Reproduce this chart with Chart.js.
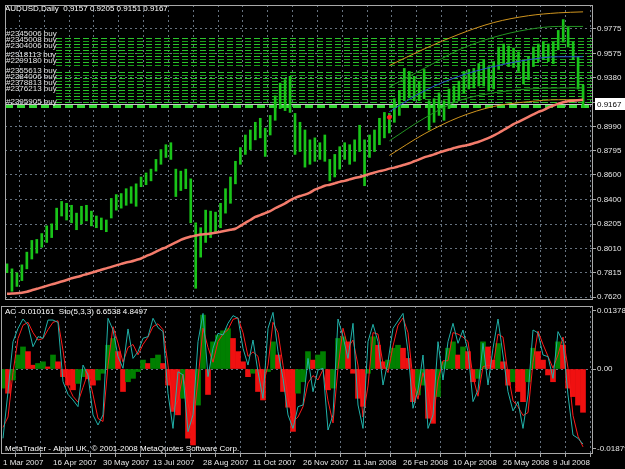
<!DOCTYPE html>
<html><head><meta charset="utf-8">
<script src="https://cdn.jsdelivr.net/npm/chart.js@4.4.1/dist/chart.umd.min.js"></script>
<style>
html,body{margin:0;padding:0;background:#000;}
#wrap{position:relative;width:625px;height:469px;background:#000;overflow:hidden;}
#c1{position:absolute;left:0;top:0;width:625px;height:305px;}
#c2{position:absolute;left:0;top:305px;width:625px;height:164px;}
</style></head><body>
<div id="wrap"><canvas id="c1" width="625" height="305"></canvas><canvas id="c2" width="625" height="164"></canvas></div>
<script>
// ---------- DATA ----------
const dateLabels = ['1 Mar 2007','16 Apr 2007','30 May 2007','13 Jul 2007','28 Aug 2007','11 Oct 2007','26 Nov 2007','11 Jan 2008','26 Feb 2008','10 Apr 2008','26 May 2008','9 Jul 2008'];
const priceTicks = [0.9775,0.9575,0.9380,0.9185,0.8990,0.8795,0.8600,0.8400,0.8205,0.8010,0.7815,0.7620];
const priceHigh = [0.7887,0.7847,0.7816,0.7879,0.7981,0.8075,0.8083,0.8130,0.8192,0.8208,
0.8334,0.8388,0.8373,0.8357,0.8294,0.8349,0.8357,0.8310,0.8271,0.8255,
0.8239,0.8412,0.8443,0.8451,0.8490,0.8506,0.8529,0.8584,0.8616,0.8647,
0.8725,0.8804,0.8843,0.8859,0.8647,0.8631,0.8647,0.8569,0.8216,0.8177,
0.8318,0.8310,0.8302,0.8373,0.8490,0.8584,0.8710,0.8820,0.8921,0.8961,
0.9023,0.9055,0.8976,0.9078,0.9235,0.9337,0.9365,0.9392,0.9094,0.9023,
0.8961,0.8882,0.8898,0.8859,0.8921,0.8725,0.8765,0.8827,0.8859,0.8843,
0.8882,0.8999,0.8882,0.8921,0.8961,0.9055,0.9102,0.9094,0.9212,0.9274,
0.9455,0.9431,0.9392,0.9353,0.9447,0.9196,0.9212,0.9259,0.9196,0.9290,
0.9314,0.9353,0.9431,0.9447,0.9455,0.9494,0.9525,0.9470,0.9510,0.9627,
0.9651,0.9635,0.9619,0.9588,0.9525,0.9549,0.9627,0.9651,0.9666,0.9651,
0.9666,0.9760,0.9847,0.9784,0.9666,0.9549,0.9321];
const priceLow = [0.7816,0.7667,0.7706,0.7753,0.7847,0.7926,0.7973,0.8020,0.8059,0.8098,
0.8161,0.8271,0.8239,0.8216,0.8161,0.8208,0.8232,0.8192,0.8177,0.8161,
0.8145,0.8255,0.8318,0.8334,0.8357,0.8373,0.8349,0.8506,0.8522,0.8553,
0.8631,0.8686,0.8741,0.8725,0.8427,0.8475,0.8490,0.8216,0.7691,0.7941,
0.8059,0.8098,0.8145,0.8177,0.8294,0.8373,0.8529,0.8686,0.8765,0.8804,
0.8882,0.8898,0.8749,0.8921,0.9039,0.9133,0.9117,0.9102,0.8765,0.8788,
0.8663,0.8686,0.8710,0.8725,0.8710,0.8553,0.8584,0.8647,0.8725,0.8686,
0.8710,0.8788,0.8514,0.8741,0.8788,0.8843,0.8898,0.8937,0.9023,0.9078,
0.9196,0.9219,0.9196,0.9196,0.9212,0.8961,0.9023,0.9078,0.9039,0.9133,
0.9180,0.9196,0.9259,0.9290,0.9298,0.9314,0.9314,0.9274,0.9290,0.9447,
0.9494,0.9470,0.9463,0.9431,0.9329,0.9365,0.9470,0.9510,0.9525,0.9510,
0.9494,0.9604,0.9666,0.9627,0.9525,0.9290,0.9141];
const maValues = [0.7647,0.7649,0.7651,0.7655,0.7663,0.7675,0.7687,0.7698,0.7710,0.7722,
0.7734,0.7745,0.7757,0.7771,0.7781,0.7792,0.7804,0.7816,0.7828,0.7840,
0.7851,0.7863,0.7875,0.7887,0.7898,0.7906,0.7918,0.7930,0.7949,0.7965,
0.7985,0.8004,0.8020,0.8039,0.8059,0.8079,0.8094,0.8106,0.8114,0.8122,
0.8126,0.8130,0.8137,0.8145,0.8153,0.8161,0.8169,0.8192,0.8216,0.8239,
0.8263,0.8278,0.8294,0.8310,0.8333,0.8353,0.8373,0.8396,0.8416,0.8431,
0.8443,0.8459,0.8482,0.8498,0.8514,0.8522,0.8533,0.8545,0.8553,0.8565,
0.8576,0.8584,0.8596,0.8608,0.8620,0.8631,0.8639,0.8651,0.8659,0.8671,
0.8682,0.8694,0.8710,0.8725,0.8741,0.8753,0.8765,0.8780,0.8792,0.8804,
0.8816,0.8827,0.8835,0.8843,0.8855,0.8867,0.8882,0.8898,0.8917,0.8937,
0.8961,0.8984,0.9008,0.9027,0.9047,0.9066,0.9086,0.9106,0.9121,0.9141,
0.9157,0.9172,0.9184,0.9192,0.9196,0.9200,0.9204];
const channelIdx = [77,84,91,98,105,111,116];
const chUpper2 = [0.9478,0.9611,0.9729,0.9823,0.9878,0.9901,0.9909];
const chUpper1 = [0.9306,0.9455,0.9604,0.9705,0.9768,0.9792,0.9792];
const chMid    = [0.9108,0.9274,0.9392,0.9470,0.9525,0.9549,0.9549];
const chLower1 = [0.8874,0.9055,0.9196,0.9259,0.9290,0.9298,0.9298];
const chLower2 = [0.8757,0.8929,0.9063,0.9150,0.9188,0.9204,0.9204];
const tradeMarkIdx = [77];
const tradeMarkPrice = [0.9063];
const orderLevels = [0.9698,0.9674,0.9651,0.9627,0.9604,0.9580,0.9556,0.9533,0.9509,0.9486,
0.9423,0.9400,0.9376,0.9353,0.9329,0.9306,0.9282,0.9259,0.9235,0.9212,0.9188,0.9150];
const orderLabels = ['#2345006 buy','','#2345008 buy','','#2304006 buy','','','#2318113 buy','','#2299180 buy',
'','#2355613 buy','','#2384006 buy','','#2378813 buy','','#2376213 buy','','','','#2395905 buy'];
const bidPrice = 0.9167;
const acTicks = [0.013787, 0, -0.01879];
const acTickLabels = ['0.013787','0.00','-0.01879'];
const acValues = [-0.0045,-0.0057,-0.0026,0.0033,0.0052,0.0041,0.0009,0.0013,0.0017,0.0005,
0.0033,0.0017,-0.0018,-0.0038,-0.0049,-0.0034,-0.0018,-0.0023,-0.0038,-0.0026,
-0.0010,0.0056,0.0072,0.0041,-0.0053,-0.0030,-0.0022,-0.0006,0.0021,0.0013,
0.0025,0.0033,0.0013,-0.0038,-0.0100,-0.0108,-0.0069,-0.0163,-0.0179,-0.0085,
0.0127,-0.0060,0.0064,0.0080,0.0090,0.0095,0.0072,0.0041,0.0017,-0.0018,
-0.0010,-0.0053,-0.0073,-0.0006,0.0064,0.0033,-0.0053,-0.0090,-0.0147,-0.0057,
-0.0030,0.0041,0.0021,0.0033,0.0041,-0.0049,-0.0045,0.0072,0.0076,0.0064,
-0.0010,-0.0069,-0.0088,-0.0010,0.0076,0.0056,0.0017,0.0021,0.0049,0.0056,
0.0049,0.0025,-0.0077,-0.0061,-0.0038,-0.0116,-0.0128,-0.0065,0.0017,0.0049,
0.0064,0.0033,0.0052,0.0041,-0.0030,-0.0022,0.0064,0.0052,0.0021,0.0060,
0.0017,-0.0038,-0.0030,-0.0053,-0.0077,-0.0030,0.0049,0.0041,0.0021,-0.0014,
-0.0030,0.0064,0.0056,-0.0045,-0.0065,-0.0085,-0.0102];
const stochMain = [10.6,42.1,75.9,84.9,91.2,87.2,72.5,79.3,78.2,90.5,
90.5,88.9,48.9,40.3,36.5,32.0,60.1,53.4,26.4,19.6,
26.4,91.7,83.8,65.8,57.9,84.5,64.6,69.1,78.2,79.3,
91.7,85.4,82.7,41.0,17.3,55.6,53.4,15.1,26.4,75.9,
95.0,52.3,71.4,81.5,80.4,88.3,93.5,91.7,71.4,60.1,
77.0,55.6,37.6,84.9,95.7,69.1,51.1,26.4,17.3,32.0,
33.1,64.6,42.1,56.8,57.9,16.2,26.4,91.2,79.3,64.6,
88.3,33.1,17.3,75.9,87.6,75.9,46.6,62.4,84.9,89.9,
95.0,69.1,30.9,43.2,66.9,17.3,26.4,75.9,50.0,75.9,
88.3,74.8,83.8,69.1,35.4,43.2,74.8,46.6,71.4,91.2,
66.9,42.1,29.1,35.4,17.3,39.9,83.8,81.8,66.9,65.8,
51.1,82.7,75.9,39.9,12.8,10.6,6.7];
const stochSignal = [18,25,55,78,87,89,82,77,78,84,
89,90,70,46,39,35,45,55,40,24,
22,60,86,75,62,72,74,67,74,79,
86,88,84,60,30,36,54,34,20,50,
85,72,62,76,81,84,91,92,82,66,
69,66,46,60,89,82,60,38,22,25,
32,48,53,50,57,36,21,58,85,72,
77,60,25,46,82,81,61,55,73,87,
92,82,50,37,55,42,22,50,63,63,
82,81,79,76,52,39,59,60,59,81,
79,54,36,32,26,28,62,83,74,66,
58,67,79,58,26,12,4.8];
const priceTitle = 'AUDUSD,Daily  0.9157 0.9205 0.9151 0.9167';
const indTitle = 'AC -0.010161  Sto(5,3,3) 6.6538 4.8497';
const copyright = 'MetaTrader - Alpari UK, \u00A9 2001-2008 MetaQuotes Software Corp.';

// ---------- STYLE ----------
const FONT = "'Liberation Sans', Arial, sans-serif";
Chart.defaults.font.family = FONT;
Chart.defaults.font.size = 8;
Chart.defaults.color = '#e6e6e6';
const GRID = '#66727f';
const FRAME = '#a8a8a8';
const xMin = -0.4, xMax = 118;
const gridIdx = []; for (let v = 0; v <= 115; v += 5) gridIdx.push(v);

const frame = { id: 'frame', afterDraw(ch) {
  const a = ch.chartArea, c = ch.ctx; c.save(); c.strokeStyle = FRAME; c.lineWidth = 1;
  c.strokeRect(Math.round(a.left) + 0.5, Math.round(a.top) + 0.5, Math.round(a.right - a.left) - 1, Math.round(a.bottom - a.top) - 1);
  c.restore(); } };

const priceOverlay = { id: 'priceOverlay',
  beforeDatasetsDraw(ch) {
    const c = ch.ctx, y = ch.scales.y, a = ch.chartArea;
    c.save(); c.beginPath(); c.rect(a.left, a.top, a.right - a.left, a.bottom - a.top); c.clip();
    orderLevels.forEach((p, k) => {
      const last = k === orderLevels.length - 1;
      const py = Math.round(y.getPixelForValue(p)) + 0.5;
      c.strokeStyle = last ? '#33d633' : (k % 2 ? '#1b9e1b' : '#2cc42c');
      c.lineWidth = last ? 3 : 1;
      c.setLineDash(last ? [8, 4] : [6, 3]);
      c.beginPath(); c.moveTo(last ? a.left : 56, py); c.lineTo(a.right, py); c.stroke();
    });
    const by = Math.round(y.getPixelForValue(bidPrice)) + 0.5;
    c.setLineDash([]); c.strokeStyle = '#c8c8c8'; c.lineWidth = 1;
    c.beginPath(); c.moveTo(a.left, by); c.lineTo(a.right, by); c.stroke();
    c.restore();
  },
  afterDraw(ch) {
    const c = ch.ctx, y = ch.scales.y;
    c.save(); c.font = '8px ' + FONT; c.textBaseline = 'bottom';
    c.fillStyle = '#e6e6e6';
    orderLabels.forEach((t, k) => { if (!t) return; const py = Math.round(y.getPixelForValue(orderLevels[k]));
      c.fillText(t, 6, py); });
    c.textBaseline = 'middle'; c.fillStyle = '#ffffff';
    c.fillText(priceTitle, 5, 9);
    const by = Math.round(y.getPixelForValue(bidPrice));
    c.fillStyle = '#ffffff'; c.fillRect(595, by - 6, 30, 12);
    c.fillStyle = '#000000'; c.fillText(bidPrice.toFixed(4), 597, by + 0.5);
    c.restore();
  } };

const indOverlay = { id: 'indOverlay', afterDraw(ch) {
  const c = ch.ctx; c.save(); c.font = '8px ' + FONT; c.textBaseline = 'middle'; c.fillStyle = '#ffffff';
  c.fillText(indTitle, 5, 7);
  c.fillText(copyright, 5, 144);
  c.restore(); } };

// ---------- PRICE CHART ----------
new Chart(document.getElementById('c1'), {
  type: 'bar',
  data: { datasets: [
    { type: 'line', data: maValues.map((v, i) => ({x: i, y: v})), borderColor: '#f47c6c', borderWidth: 2.5, pointRadius: 0, tension: 0.3 },
    { type: 'scatter', data: tradeMarkIdx.map((v, i) => ({x: v, y: tradeMarkPrice[i]})), backgroundColor: '#ff2020', borderColor: '#ff2020', pointRadius: 2 },
    { type: 'line', data: channelIdx.map((v, i) => ({x: v, y: chUpper2[i]})), borderColor: '#d0951e', borderWidth: 1, pointRadius: 0, cubicInterpolationMode: 'monotone' },
    { type: 'line', data: channelIdx.map((v, i) => ({x: v, y: chUpper1[i]})), borderColor: '#229422', borderWidth: 1, pointRadius: 0, cubicInterpolationMode: 'monotone' },
    { type: 'line', data: channelIdx.map((v, i) => ({x: v, y: chMid[i]})), borderColor: '#2b55d0', borderWidth: 1, pointRadius: 0, cubicInterpolationMode: 'monotone' },
    { type: 'line', data: channelIdx.map((v, i) => ({x: v, y: chLower1[i]})), borderColor: '#229422', borderWidth: 1, pointRadius: 0, cubicInterpolationMode: 'monotone' },
    { type: 'line', data: channelIdx.map((v, i) => ({x: v, y: chLower2[i]})), borderColor: '#d0951e', borderWidth: 1, pointRadius: 0, cubicInterpolationMode: 'monotone' },
    { type: 'bar', data: priceHigh.map((h, i) => ({x: i, y: [priceLow[i], h]})), backgroundColor: '#19c419', barThickness: 2, grouped: false }
  ]},
  options: {
    responsive: false, animation: false, devicePixelRatio: 1,
    layout: { padding: { left: 1, top: 2, right: 0, bottom: 1 } },
    plugins: { legend: { display: false }, tooltip: { enabled: false } },
    scales: {
      x: { type: 'linear', min: xMin, max: xMax, position: 'bottom', offset: false,
        afterBuildTicks: s => { s.ticks = gridIdx.map(v => ({value: v})); },
        ticks: { display: false }, grid: { color: GRID, drawTicks: false }, border: { display: false, dash: [2, 3] },
        afterFit: s => { s.height = 0; s.paddingLeft = 0; s.paddingRight = 0; } },
      y: { position: 'right', min: 0.7597, max: 0.9964,
        afterBuildTicks: s => { s.ticks = priceTicks.map(v => ({value: v})); },
        ticks: { padding: 1, color: '#e6e6e6', callback: v => (v === 0.9185 ? '' : v.toFixed(4)) },
        grid: { color: GRID, tickColor: FRAME, tickLength: 3 }, border: { display: false, dash: [2, 3] },
        afterFit: s => { s.width = 32; s.paddingTop = 0; s.paddingBottom = 0; } }
    }
  },
  plugins: [priceOverlay, frame]
});

// ---------- INDICATOR CHART ----------
new Chart(document.getElementById('c2'), {
  type: 'bar',
  data: { datasets: [
    { type: 'line', yAxisID: 'y2', data: stochMain.map((v, i) => ({x: i, y: v})), borderColor: '#20b2aa', borderWidth: 1, pointRadius: 0, tension: 0 },
    { type: 'line', yAxisID: 'y2', data: stochSignal.map((v, i) => ({x: i, y: v})), borderColor: '#ff1a1a', borderWidth: 1, pointRadius: 0, tension: 0 },
    { type: 'bar', yAxisID: 'y', data: acValues.map((v, i) => ({x: i, y: v})),
      backgroundColor: acValues.map((v, i) => (i > 0 && v < acValues[i - 1]) ? '#f01010' : '#008000'),
      barPercentage: 1, categoryPercentage: 1, grouped: false }
  ]},
  options: {
    responsive: false, animation: false, devicePixelRatio: 1,
    layout: { padding: { left: 1, top: 1, right: 0, bottom: 0 } },
    plugins: { legend: { display: false }, tooltip: { enabled: false } },
    scales: {
      x: { type: 'linear', min: xMin, max: xMax, position: 'bottom', offset: false,
        afterBuildTicks: s => { s.ticks = gridIdx.map(v => ({value: v})); },
        ticks: { autoSkip: false, maxRotation: 0, minRotation: 0, align: 'start', padding: 1, color: '#e6e6e6',
          callback: v => (v % 10 === 0 ? dateLabels[v / 10] : '') },
        grid: { color: GRID, tickColor: FRAME, tickLength: 3 }, border: { display: false, dash: [2, 3] },
        afterFit: s => { s.height = 15; s.paddingLeft = 0; s.paddingRight = 0; } },
      y: { position: 'right', min: -0.02003, max: 0.01485,
        afterBuildTicks: s => { s.ticks = acTicks.map(v => ({value: v})); },
        ticks: { padding: 1, color: '#e6e6e6', callback: (v, idx) => acTickLabels[idx] },
        grid: { color: c => (c.tick && c.tick.value === 0 ? GRID : 'rgba(0,0,0,0)'), tickColor: FRAME, tickLength: 3 },
        border: { display: false, dash: [2, 3] },
        afterFit: s => { s.width = 32; s.paddingTop = 0; s.paddingBottom = 0; } },
      y2: { display: false, min: 0, max: 100 }
    }
  },
  plugins: [indOverlay, frame]
});
</script>
</body></html>
